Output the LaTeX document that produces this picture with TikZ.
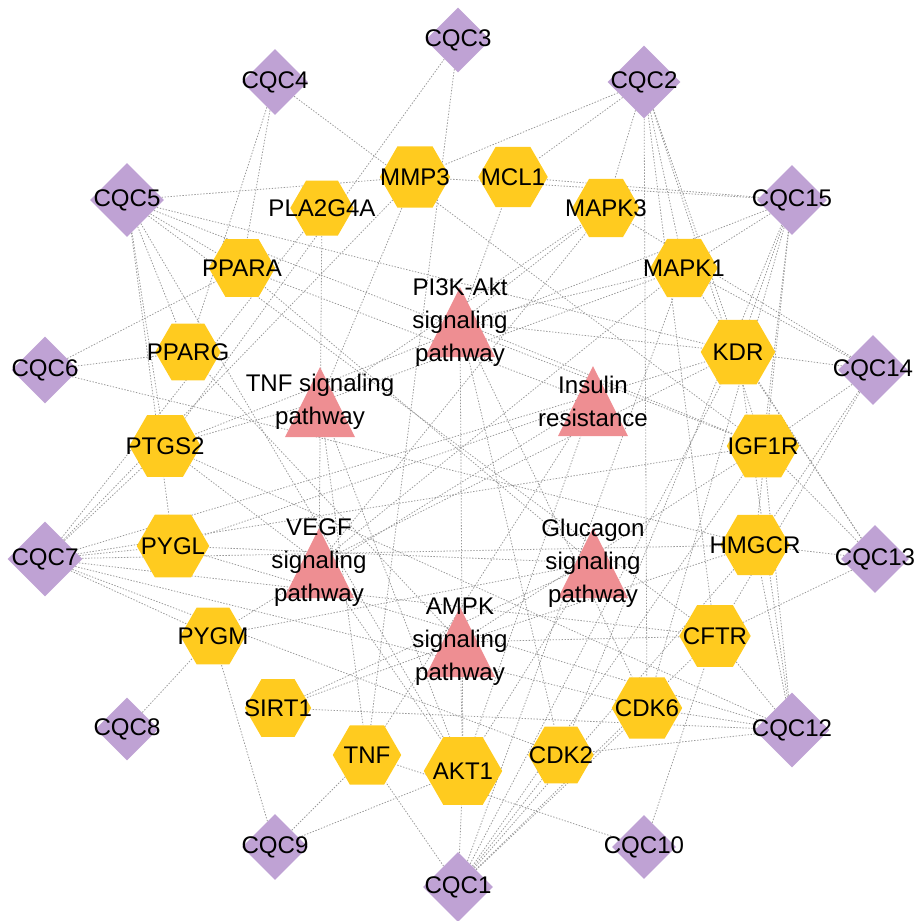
\documentclass[tikz,border=0pt]{standalone}
\usepackage{fontspec}
\setmainfont{Liberation Sans}
\usetikzlibrary{shapes.geometric,backgrounds}

\definecolor{cqcpurple}{HTML}{BFA2D4}
\definecolor{targetgold}{HTML}{FFCB1F}
\definecolor{pathpink}{HTML}{EE8E92}
\definecolor{linkgray}{HTML}{999999}

\tikzset{
  nlabel/.style={font=\fontsize{13.7}{18.8}\selectfont, text=black, inner sep=0pt, align=center},
  compound/.style={diamond, fill=cqcpurple, inner sep=0pt, minimum width=#1, minimum height=#1},
  target/.style={regular polygon, regular polygon sides=6, fill=targetgold, inner sep=0pt, minimum size=#1},
  link/.style={linkgray, line width=0.45pt, dash pattern=on 0.8pt off 0.9pt},
}

\begin{document}
\begin{tikzpicture}[x=0.02cm, y=-0.02cm]
\useasboundingbox (0,0) rectangle (920,921);

% Compounds (outer ring)
\node[compound=1.30cm, label={[nlabel]center:CQC3}] (cqc3) at (458,40) {};
\node[compound=1.32cm, label={[nlabel]center:CQC4}] (cqc4) at (275,82) {};
\node[compound=1.46cm, label={[nlabel]center:CQC2}] (cqc2) at (644,82) {};
\node[compound=1.48cm, label={[nlabel]center:CQC5}] (cqc5) at (127,200) {};
\node[compound=1.40cm, label={[nlabel]center:CQC15}] (cqc15) at (792,200) {};
\node[compound=1.34cm, label={[nlabel]center:CQC6}] (cqc6) at (45,370) {};
\node[compound=1.40cm, label={[nlabel]center:CQC14}] (cqc14) at (873,370) {};
\node[compound=1.50cm, label={[nlabel]center:CQC7}] (cqc7) at (45,559) {};
\node[compound=1.36cm, label={[nlabel]center:CQC13}] (cqc13) at (875,559) {};
\node[compound=1.26cm, label={[nlabel]center:CQC8}] (cqc8) at (127,729) {};
\node[compound=1.50cm, label={[nlabel]center:CQC12}] (cqc12) at (792,730) {};
\node[compound=1.32cm, label={[nlabel]center:CQC9}] (cqc9) at (275,847) {};
\node[compound=1.28cm, label={[nlabel]center:CQC10}] (cqc10) at (644,847) {};
\node[compound=1.40cm, label={[nlabel]center:CQC1}] (cqc1) at (458,887) {};

% Targets (middle ring)
\node[target=1.41cm, label={[nlabel]center:MMP3}] (mmp3) at (415,177) {};
\node[target=1.39cm, label={[nlabel]center:MCL1}] (mcl1) at (513,177) {};
\node[target=1.27cm, label={[nlabel]center:PLA2G4A}] (pla2g4a) at (322,208) {};
\node[target=1.35cm, label={[nlabel]center:MAPK3}] (mapk3) at (606,208) {};
\node[target=1.33cm, label={[nlabel]center:PPARA}] (ppara) at (242,268) {};
\node[target=1.35cm, label={[nlabel]center:MAPK1}] (mapk1) at (684,268) {};
\node[target=1.31cm, label={[nlabel]center:PPARG}] (pparg) at (188,352) {};
\node[target=1.49cm, label={[nlabel]center:KDR}] (kdr) at (738,352) {};
\node[target=1.43cm, label={[nlabel]center:PTGS2}] (ptgs2) at (165,446) {};
\node[target=1.45cm, label={[nlabel]center:IGF1R}] (igf1r) at (763,446) {};
\node[target=1.45cm, label={[nlabel]center:PYGL}] (pygl) at (173,546) {};
\node[target=1.39cm, label={[nlabel]center:HMGCR}] (hmgcr) at (755,545) {};
\node[target=1.31cm, label={[nlabel]center:PYGM}] (pygm) at (213,636) {};
\node[target=1.43cm, label={[nlabel]center:CFTR}] (cftr) at (715,636) {};
\node[target=1.33cm, label={[nlabel]center:SIRT1}] (sirt1) at (278,708) {};
\node[target=1.41cm, label={[nlabel]center:CDK6}] (cdk6) at (647,708) {};
\node[target=1.37cm, label={[nlabel]center:TNF}] (tnfg) at (367,755) {};
\node[target=1.31cm, label={[nlabel]center:CDK2}] (cdk2) at (561,755) {};
\node[target=1.57cm, label={[nlabel]center:AKT1}] (akt1) at (463,771) {};

% Pathways (centre)
\coordinate (pik) at (460,322);
\coordinate (tnfp) at (320,402);
\coordinate (insulin) at (593,401);
\coordinate (vegf) at (319,563);
\coordinate (glucagon) at (593,563);
\coordinate (ampk) at (460,642);
\foreach \p in {pik,tnfp,insulin,vegf,glucagon,ampk}
  \fill[pathpink] (\p) ++(0,-35) -- ++(35,70) -- ++(-70,0) -- cycle;
\node[nlabel] (pik-t) at (pik) {PI3K-Akt\\signaling\\pathway};
\node[nlabel] (tnfp-t) at (tnfp) {TNF signaling\\pathway};
\node[nlabel] (insulin-t) at (insulin) {Insulin\\resistance};
\node[nlabel] (vegf-t) at (vegf) {VEGF\\signaling\\pathway};
\node[nlabel] (glucagon-t) at (glucagon) {Glucagon\\signaling\\pathway};
\node[nlabel] (ampk-t) at (ampk) {AMPK\\signaling\\pathway};

% Links
\begin{scope}[on background layer]
\foreach \t in {tnfg,akt1,cdk2,cdk6,cftr,hmgcr,igf1r,kdr,mapk1}
  \draw[link] (cqc1) -- (\t);
\foreach \t in {mmp3,mcl1,mapk3,mapk1,kdr,igf1r,cftr,cdk6}
  \draw[link] (cqc2) -- (\t);
\foreach \t in {ptgs2,tnfg}
  \draw[link] (cqc3) -- (\t);
\foreach \t in {ppara,pparg,igf1r}
  \draw[link] (cqc4) -- (\t);
\foreach \t in {mmp3,ppara,pparg,ptgs2,pygl,kdr,igf1r,cftr,akt1}
  \draw[link] (cqc5) -- (\t);
\foreach \t in {ppara,pparg,hmgcr}
  \draw[link] (cqc6) -- (\t);
\foreach \t in {ptgs2,pla2g4a,mmp3,pygl,pygm,kdr,igf1r,hmgcr,cftr,cdk6,cdk2}
  \draw[link] (cqc7) -- (\t);
\draw[link] (cqc8) -- (pygm);
\foreach \t in {pygm,tnfg,akt1}
  \draw[link] (cqc9) -- (\t);
\foreach \t in {cftr,tnfg}
  \draw[link] (cqc10) -- (\t);
\foreach \t in {cftr,hmgcr,igf1r,kdr,cdk6,cdk2,sirt1,pygl,ptgs2}
  \draw[link] (cqc12) -- (\t);
\foreach \t in {hmgcr,cftr,igf1r,kdr,mapk1}
  \draw[link] (cqc13) -- (\t);
\foreach \t in {mapk1,mapk3,kdr,igf1r,hmgcr,cftr}
  \draw[link] (cqc14) -- (\t);
\foreach \t in {mcl1,mmp3,mapk1,ptgs2,kdr,igf1r,hmgcr,cdk6,cdk2}
  \draw[link] (cqc15) -- (\t);
% pathway links
\foreach \t in {akt1,cdk2,cdk6,igf1r,kdr,mapk1,mapk3,mcl1}
  \draw[link] (pik) -- (\t);
\foreach \t in {akt1,mapk1,mapk3,mmp3,ptgs2,tnfg}
  \draw[link] (tnfp) -- (\t);
\foreach \t in {akt1,ppara,pygl,pygm,tnfg}
  \draw[link] (insulin) -- (\t);
\foreach \t in {akt1,kdr,mapk1,mapk3,pla2g4a,ptgs2}
  \draw[link] (vegf) -- (\t);
\foreach \t in {akt1,ppara,pygl,pygm,sirt1}
  \draw[link] (glucagon) -- (\t);
\foreach \t in {akt1,cftr,hmgcr,igf1r,pparg,sirt1}
  \draw[link] (ampk) -- (\t);
\end{scope}
\end{tikzpicture}
\end{document}
